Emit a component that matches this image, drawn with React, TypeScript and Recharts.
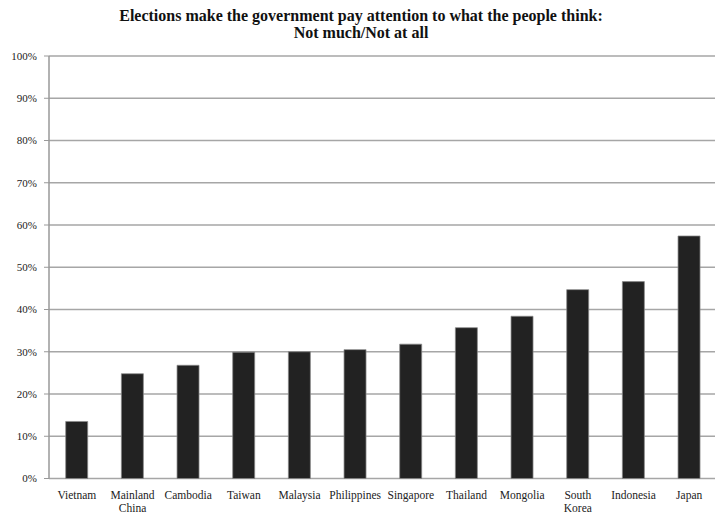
import React from "react";
import { BarChart, Bar, XAxis, YAxis, CartesianGrid } from "recharts";

const countries = [
  "Vietnam",
  "Mainland China",
  "Cambodia",
  "Taiwan",
  "Malaysia",
  "Philippines",
  "Singapore",
  "Thailand",
  "Mongolia",
  "South Korea",
  "Indonesia",
  "Japan",
];
const values = [13.5, 24.8, 26.8, 29.9, 30.0, 30.5, 31.8, 35.7, 38.4, 44.7, 46.6, 57.4];
const yTicks = [0, 10, 20, 30, 40, 50, 60, 70, 80, 90, 100];
const edgeTicks = [0, 1, 2, 3, 4, 5, 6, 7, 8, 9, 10, 11, 12];
const titleLines = [
  "Elections make the government pay attention to what the people think:",
  "Not much/Not at all",
];

const data = countries.map((c, i) => ({ name: c, value: values[i] }));

const FONT = "Liberation Serif, Times New Roman, Times, serif";

const CatTick = (props: any) => {
  const { x, y, payload } = props;
  const words = String(payload.value).split(" ");
  const lines = words.length > 1 ? words : [payload.value];
  return (
    <g transform={`translate(${x},${y})`}>
      <text textAnchor="middle" fill="#222" fontSize={11.5} fontFamily={FONT}>
        {lines.map((l: string, i: number) => (
          <tspan key={i} x={0} y={12 + i * 13.5}>
            {l}
          </tspan>
        ))}
      </text>
    </g>
  );
};

export default function App() {
  return (
    <div
      style={{
        position: "absolute",
        left: 0,
        top: 0,
        width: 715,
        height: 515,
        overflow: "hidden",
        background: "#fff",
      }}
    >
      <div
        style={{
          position: "absolute",
          left: 0,
          top: 7,
          width: 722,
          textAlign: "center",
          fontFamily: FONT,
          fontWeight: "bold",
          fontSize: 16,
          lineHeight: "17px",
          color: "#111",
        }}
      >
        {titleLines.map((t, i) => (
          <div key={i} style={{ fontFamily: FONT }}>{t}</div>
        ))}
      </div>
      <BarChart
        width={717}
        height={515}
        data={data}
        margin={{ top: 56, right: 0, left: 0, bottom: 0 }}
        barCategoryGap="30%"
      >
        <CartesianGrid horizontal vertical={false} stroke="#a6a6a6" strokeWidth={1.5} />
        <XAxis
          xAxisId="edge"
          type="number"
          domain={[0, 12]}
          ticks={edgeTicks}
          allowDataOverflow
          height={0}
          tick={false}
          tickLine={{ stroke: "#999" }}
          tickSize={4}
          axisLine={{ stroke: "#999", strokeWidth: 1.5 }}
        />
        <XAxis
          xAxisId="cat"
          dataKey="name"
          height={36.5}
          interval={0}
          tick={<CatTick />}
          tickLine={false}
          axisLine={false}
        />
        <YAxis
          width={49}
          domain={[0, 100]}
          ticks={yTicks}
          tickFormatter={(v: number) => `${v}%`}
          tick={{ fontSize: 11, fontFamily: FONT, fill: "#222" }}
          tickSize={5}
          tickMargin={7}
          tickLine={{ stroke: "#999" }}
          axisLine={{ stroke: "#999", strokeWidth: 1.5 }}
        />
        <Bar
          xAxisId="cat"
          dataKey="value"
          fill="#222222"
          stroke="#8a8a8a"
          strokeWidth={0.75}
          isAnimationActive={false}
        />
      </BarChart>
    </div>
  );
}
